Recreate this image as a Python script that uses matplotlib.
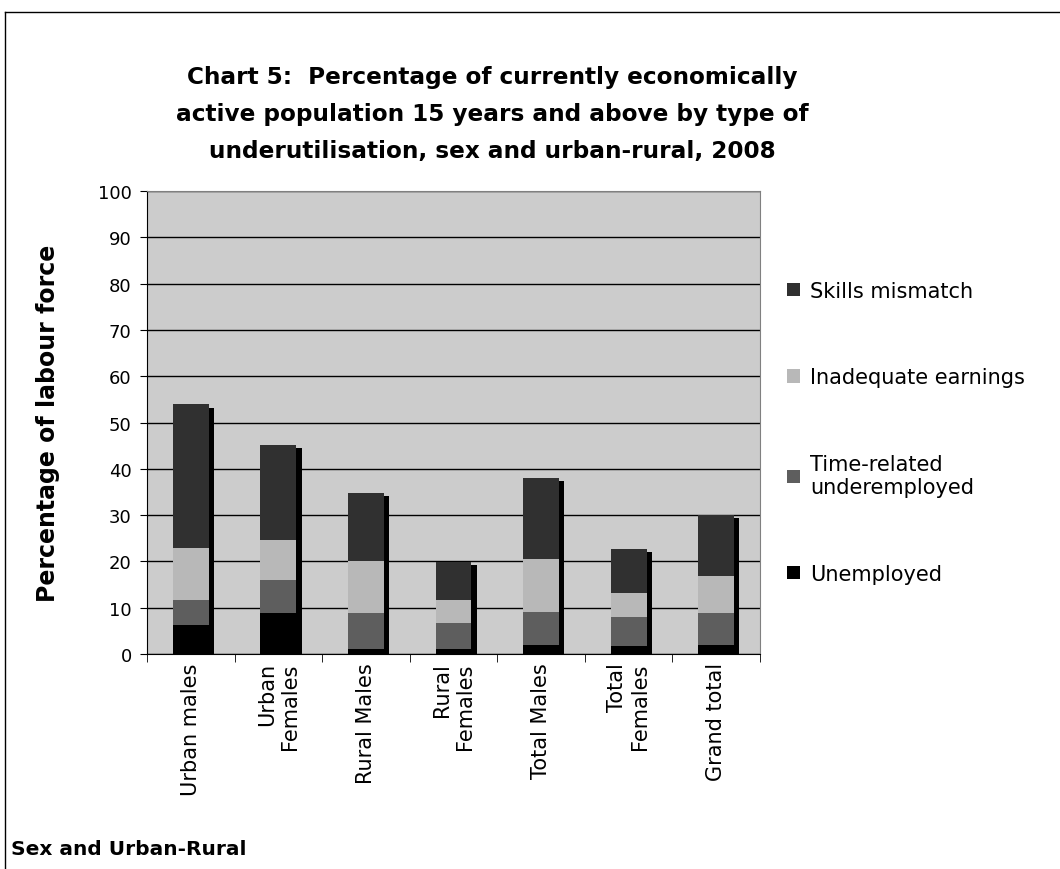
import matplotlib.pyplot as plt
import numpy as np
from matplotlib.lines import Line2D

# values (percent of labour force)
categories = ['Urban males', 'Urban\nFemales', 'Rural Males', 'Rural\nFemales',
              'Total Males', 'Total\nFemales', 'Grand total']
unemployed = [6.3, 8.9, 1.1, 1.1, 2.0, 1.8, 2.0]
time_related = [5.4, 7.1, 7.8, 5.7, 7.1, 6.2, 6.9]
inadequate = [11.3, 8.7, 11.2, 4.9, 11.5, 5.2, 8.0]
skills = [30.9, 20.5, 14.7, 8.2, 17.5, 9.5, 13.1]

series = [
    ('Unemployed', unemployed, '#000000'),
    ('Time-related\nunderemployed', time_related, '#5e5e5e'),
    ('Inadequate earnings', inadequate, '#b8b8b8'),
    ('Skills mismatch', skills, '#303030'),
]

fig = plt.figure(figsize=(10.6, 8.7), dpi=100)
ax = fig.add_axes([0.1387, 0.2471, 0.5783, 0.5322])
ax.set_facecolor('#cccccc')

x = np.arange(len(categories))
width = 0.41

# drop shadow behind each stacked bar
totals = np.sum([s[1] for s in series], axis=0)
ax.bar(x + 0.06, totals - 0.7, width, color='black', zorder=2)

bottom = np.zeros(len(categories))
for name, vals, col in series:
    ax.bar(x, vals, width, bottom=bottom, color=col, label=name, zorder=3)
    bottom += np.array(vals)

ax.set_xlim(-0.5, len(categories) - 0.5)
ax.set_ylim(0, 100)
ax.set_yticks(np.arange(0, 101, 10))
ax.yaxis.grid(True, color='black', lw=1)
ax.set_axisbelow(True)

ax.set_xticks(x)
ax.set_xticklabels(categories, rotation=90, fontsize=15, multialignment='right',
                   linespacing=1.15)
ax.set_xticks(np.arange(-0.5, len(categories)), minor=True)
ax.tick_params(axis='x', which='major', length=0, pad=6)
ax.tick_params(axis='x', which='minor', length=6, direction='out', color='black')
ax.tick_params(axis='y', length=5, direction='out', labelsize=13, pad=6)

for side in ['top', 'right']:
    ax.spines[side].set_color('#808080')
ax.spines['left'].set_color('black')
ax.spines['bottom'].set_color('black')

ax.set_ylabel('Percentage of labour force', fontsize=17, fontweight='bold', labelpad=27)

# legend on the right, reversed order like the original
h, l = ax.get_legend_handles_labels()
fig.legend(h[::-1], l[::-1], loc='center left', bbox_to_anchor=(0.733, 0.502),
           frameon=False, fontsize=15, handlelength=0.6, handleheight=0.6,
           handletextpad=0.5, labelspacing=3.2, borderpad=0)

fig.text(0.464, 0.868,
         'Chart 5:  Percentage of currently economically\n'
         'active population 15 years and above by type of\n'
         'underutilisation, sex and urban-rural, 2008',
         ha='center', va='center', fontsize=16.7, fontweight='bold', linespacing=1.78)

fig.text(0.01, 0.023, 'Sex and Urban-Rural', fontsize=14.5, fontweight='bold', va='center')

# outer chart border
fig.add_artist(Line2D([5 / 1060, 1], [1 - 13 / 870, 1 - 13 / 870], color='black', lw=1))
fig.add_artist(Line2D([5 / 1060, 5 / 1060], [0, 1 - 13 / 870], color='black', lw=1))

plt.savefig('out.png', dpi=100)
